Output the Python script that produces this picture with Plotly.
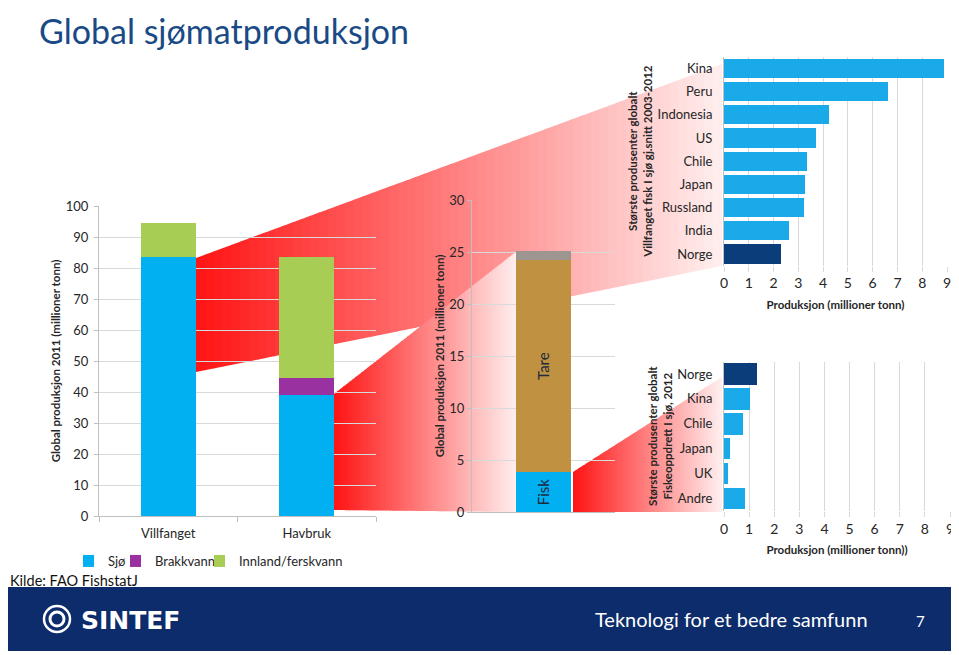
import plotly.graph_objects as go

# ------------------------------------------------------------------ data
kategorier = ["Villfanget", "Havbruk"]
sjo = [83.4, 39.0]
brakkvann = [0.0, 5.5]
innland_ferskvann = [11.0, 38.9]

havbruk_sjo_kat = ["Havbruk i sjø"]
fisk = [3.85]
tare = [20.35]
annet = [0.9]

villfanget_land = ["Kina", "Peru", "Indonesia", "US", "Chile", "Japan", "Russland", "India", "Norge"]
villfanget_prod = [8.87, 6.6, 4.25, 3.71, 3.36, 3.25, 3.24, 2.62, 2.32]

oppdrett_land = ["Norge", "Kina", "Chile", "Japan", "UK", "Andre"]
oppdrett_prod = [1.31, 1.02, 0.74, 0.24, 0.14, 0.82]

y1_ticks = [0, 10, 20, 30, 40, 50, 60, 70, 80, 90, 100]
y2_ticks = [0, 5, 10, 15, 20, 25, 30]
x_land_ticks = [0, 1, 2, 3, 4, 5, 6, 7, 8, 9]

# ------------------------------------------------------------------ style
W, H = 959, 655
OFF = 8  # page body margin in the browser
FONT = "Lato, 'Open Sans', sans-serif"
TXT = "#262626"
GRID = "#D9D9D9"
AX = "#BFBFBF"
C_SJO = "#00B0F0"
C_BRAKK = "#9932A0"
C_INNLAND = "#A7CD55"
C_TARE = "#BF9140"
C_ANNET = "#9D9690"
C_LAND = "#1AA9E9"
C_NORGE = "#0A3D7A"
C_FOOT = "#0C2C6C"
C_TITLE = "#1A4A86"


def px(x):
    return (x - OFF) / W


def py(y):
    return 1 - (y - OFF) / H


fig = go.Figure()

# chart 1: global production 2011 (one legend box per series, placed in a row)
legend_pos = {"legend": 83, "legend2": 130, "legend3": 214}
for name, vals, col, lg in [("Sjø", sjo, C_SJO, "legend"),
                            ("Brakkvann", brakkvann, C_BRAKK, "legend2"),
                            ("Innland/ferskvann", innland_ferskvann, C_INNLAND, "legend3")]:
    fig.add_trace(go.Bar(x=kategorier, y=vals, name=name, marker_color=col,
                         marker_line_width=0, width=0.4, xaxis="x", yaxis="y",
                         legend=lg))

# chart 2: aquaculture in sea
for name, vals, col, lbl in [("Fisk", fisk, C_SJO, True), ("Tare", tare, C_TARE, True),
                             ("Annet", annet, C_ANNET, False)]:
    fig.add_trace(go.Bar(x=havbruk_sjo_kat, y=vals, name=name, marker_color=col,
                         marker_line_width=0, width=0.39, xaxis="x2", yaxis="y2",
                         showlegend=False,
                         text=[name] if lbl else None, textposition="inside",
                         textangle=-90, insidetextanchor="middle",
                         insidetextfont=dict(size=15, color="#1C2B40", family=FONT)))

# chart 3: wild catch producers
fig.add_trace(go.Bar(x=villfanget_prod, y=villfanget_land, orientation="h",
                     marker_color=[C_NORGE if c == "Norge" else C_LAND for c in villfanget_land],
                     marker_line_width=0, width=0.83, xaxis="x3", yaxis="y3",
                     showlegend=False, name="Villfanget"))

# chart 4: fish farming producers
fig.add_trace(go.Bar(x=oppdrett_prod, y=oppdrett_land, orientation="h",
                     marker_color=[C_NORGE if c == "Norge" else C_LAND for c in oppdrett_land],
                     marker_line_width=0, width=0.87, xaxis="x4", yaxis="y4",
                     showlegend=False, name="Fiskeoppdrett"))

tf = dict(size=13, color=TXT, family=FONT)
ttl = dict(size=11.5, color=TXT, family=FONT)

# ------------------------------------------------------------------ decorative red connectors
shapes = []


def connector(x0, x1, top0, top1, bot0, bot1, n=60):
    for i in range(n):
        xa = x0 + (x1 - x0) * i / n
        xb = min(x1, x0 + (x1 - x0) * (i + 1) / n + 1.0)
        ta = top0 + (top1 - top0) * (xa - x0) / (x1 - x0)
        tb = top0 + (top1 - top0) * (xb - x0) / (x1 - x0)
        ba = bot0 + (bot1 - bot0) * (xa - x0) / (x1 - x0)
        bb = bot0 + (bot1 - bot0) * (xb - x0) / (x1 - x0)
        t = (i + 0.5) / n
        g = int(255 * min(1.0, 0.08 + 0.86 * t))
        path = (f"M{px(xa)},{py(ta)} L{px(xb)},{py(tb)} "
                f"L{px(xb)},{py(bb)} L{px(xa)},{py(ba)} Z")
        shapes.append(dict(type="path", path=path, xref="paper", yref="paper",
                           fillcolor=f"rgb(255,{g},{g})", line=dict(width=0),
                           layer="below"))


connector(196, 722, 258, 64, 372, 266)
connector(334, 517, 394, 251, 510, 512)
connector(573, 722, 472, 377, 512, 512)

# footer band
shapes.append(dict(type="rect", xref="paper", yref="paper", x0=px(4), x1=px(955),
                   y0=py(651), y1=py(587), fillcolor=C_FOOT, line=dict(width=0), layer="below"))
# logo rings
shapes.append(dict(type="circle", xref="paper", yref="paper", x0=px(44), x1=px(70),
                   y0=py(632), y1=py(606), line=dict(color="white", width=2.5)))
shapes.append(dict(type="circle", xref="paper", yref="paper", x0=px(50), x1=px(64),
                   y0=py(626), y1=py(612), line=dict(color="white", width=3)))

annotations = [
    dict(text="Global sjømatproduksjon", x=px(37), y=py(8.2), xref="paper", yref="paper",
         xanchor="left", yanchor="top", showarrow=False,
         font=dict(size=34, color=C_TITLE, family=FONT)),
    dict(text="Kilde: FAO FishstatJ", x=px(8), y=py(580), xref="paper", yref="paper",
         xanchor="left", yanchor="middle", showarrow=False,
         font=dict(size=14.5, color="#111111", family=FONT)),
    dict(text="<b>SINTEF</b>", x=px(79), y=py(620), xref="paper", yref="paper",
         xanchor="left", yanchor="middle", showarrow=False,
         font=dict(size=25, color="white", family="DejaVu Sans")),
    dict(text="Teknologi for et bedre samfunn", x=px(593), y=py(619), xref="paper",
         yref="paper", xanchor="left", yanchor="middle", showarrow=False,
         font=dict(size=20, color="white", family=FONT)),
    dict(text="7", x=px(920), y=py(621), xref="paper", yref="paper",
         xanchor="center", yanchor="middle", showarrow=False,
         font=dict(size=15, color="white", family=FONT)),
]

legend_common = dict(orientation="h", yanchor="middle", xanchor="left", y=py(561),
                     font=dict(size=13, color=TXT, family=FONT), itemwidth=30,
                     indentation=-15, bgcolor="rgba(0,0,0,0)")

fig.update_layout(
    width=W, height=H,
    margin=dict(l=0, r=0, t=0, b=0, autoexpand=False),
    paper_bgcolor="white", plot_bgcolor="rgba(0,0,0,0)",
    font=dict(family=FONT, color=TXT),
    barmode="stack",
    showlegend=True,
    legend=dict(x=px(legend_pos["legend"]), **legend_common),
    legend2=dict(x=px(legend_pos["legend2"]), **legend_common),
    legend3=dict(x=px(legend_pos["legend3"]), **legend_common),
    xaxis=dict(domain=[px(99), px(376)], anchor="y", type="category", range=[-0.5, 1.5],
               automargin=False,
               showgrid=False, showline=True, linecolor=AX, ticks="outside",
               tickson="boundaries", ticklen=5, tickcolor=AX, tickfont=tf,
               ticklabelstandoff=5),
    yaxis=dict(domain=[py(516), py(206)], anchor="x", range=[0, 100], tickvals=y1_ticks,
               automargin=False,
               showgrid=True, gridcolor=GRID, zeroline=False, showline=True, linecolor=AX,
               ticks="outside", ticklen=4, tickcolor=AX, tickfont=tf, ticklabelstandoff=3,
               title=dict(text="<b>Global produksjon 2011 (millioner tonn)</b>", font=ttl,
                          standoff=2)),
    xaxis2=dict(domain=[px(472), px(615)], anchor="y2", type="category", range=[-0.5, 0.5],
                automargin=False,
                showticklabels=False, showgrid=False, showline=True, linecolor=AX, ticks=""),
    yaxis2=dict(domain=[py(512), py(200)], anchor="x2", range=[0, 30], tickvals=y2_ticks,
                automargin=False,
                showgrid=True, gridcolor=GRID, zeroline=False, showline=True, linecolor=AX,
                ticks="outside", ticklen=4, tickcolor=AX, tickfont=tf,
                title=dict(text="<b>Global produksjon 2011 (millioner tonn)</b>", font=ttl,
                           standoff=2)),
    xaxis3=dict(domain=[px(724), px(947)], anchor="y3", range=[0, 9], tickvals=x_land_ticks,
                automargin=False,
                showgrid=True, gridcolor=GRID, zeroline=False, showline=False,
                ticks="outside", ticklen=5, tickcolor=GRID,
                tickfont=dict(size=14, color=TXT, family=FONT),
                title=dict(text="<b>Produksjon (millioner tonn)</b>", font=ttl, standoff=10)),
    yaxis3=dict(domain=[py(265.6), py(56.7)], anchor="x3", type="category",
                automargin=False,
                autorange="reversed", showgrid=False, showline=True, linecolor=AX,
                ticks="", ticklabelstandoff=8, tickfont=tf,
                title=dict(text="<b>Største produsenter globalt</b><br><b>Villfanget fisk I sjø gj.snitt 2003-2012</b>",
                           font=ttl, standoff=2)),
    xaxis4=dict(domain=[px(724), px(950)], anchor="y4", range=[0, 9], tickvals=x_land_ticks,
                automargin=False,
                showgrid=True, gridcolor=GRID, zeroline=False, showline=False,
                ticks="outside", ticklen=5, tickcolor=GRID,
                tickfont=dict(size=14, color=TXT, family=FONT),
                title=dict(text="<b>Produksjon (millioner tonn))</b>", font=ttl, standoff=10)),
    yaxis4=dict(domain=[py(510.8), py(361.5)], anchor="x4", type="category",
                automargin=False,
                autorange="reversed", showgrid=False, showline=True, linecolor=AX,
                ticks="", ticklabelstandoff=8, tickfont=tf,
                title=dict(text="<b>Største produsenter globalt</b><br><b>Fiskeoppdrett I sjø, 2012</b>",
                           font=ttl, standoff=2)),
    shapes=shapes,
    annotations=annotations,
)

fig.write_html("out.html", config={"displayModeBar": False})
